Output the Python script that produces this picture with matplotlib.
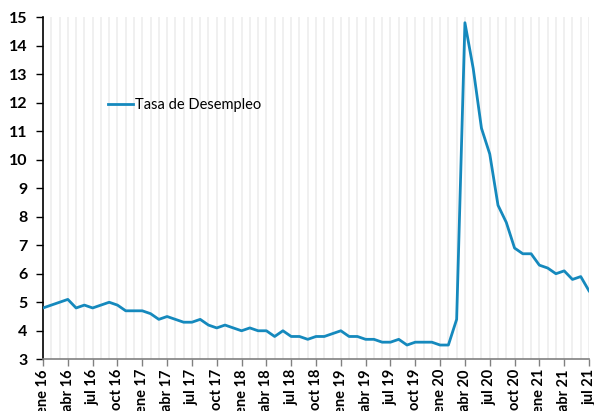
import matplotlib
matplotlib.use("Agg")
import matplotlib.pyplot as plt

months = ["ene", "feb", "mar", "abr", "may", "jun", "jul", "ago", "sep", "oct", "nov", "dic"]
periods = [f"{m} {y}" for y in range(16, 22) for m in months][:67]

tasa = [4.8, 4.9, 5.0, 5.1, 4.8, 4.9, 4.8, 4.9, 5.0, 4.9, 4.7, 4.7,
        4.7, 4.6, 4.4, 4.5, 4.4, 4.3, 4.3, 4.4, 4.2, 4.1, 4.2, 4.1,
        4.0, 4.1, 4.0, 4.0, 3.8, 4.0, 3.8, 3.8, 3.7, 3.8, 3.8, 3.9,
        4.0, 3.8, 3.8, 3.7, 3.7, 3.6, 3.6, 3.7, 3.5, 3.6, 3.6, 3.6,
        3.5, 3.5, 4.4, 14.8, 13.2, 11.1, 10.2, 8.4, 7.8, 6.9, 6.7, 6.7,
        6.3, 6.2, 6.0, 6.1, 5.8, 5.9, 5.4]

yticks = list(range(3, 16))

plt.rcParams['font.family'] = ['Lato', 'DejaVu Sans']

fig = plt.figure(figsize=(5.94, 4.11), dpi=100)
ax = fig.add_axes([0.0724, 0.1258, 0.9192, 0.8328])

x = list(range(len(tasa)))
for xi in x:
    ax.axvline(xi, color='#efefef', lw=1.3, zorder=0)

ax.plot(x, tasa, color='#1589bd', lw=2.0, label='Tasa de Desempleo', zorder=3)

ax.set_xlim(0, len(tasa) - 1)
ax.set_ylim(3, 15)
ax.set_yticks(yticks)
ax.set_yticklabels([str(v) for v in yticks], fontweight='bold', fontsize=11.5)

tick_pos = x[::3]
ax.set_xticks(tick_pos)
ax.set_xticklabels([periods[i] for i in tick_pos], rotation=90, fontweight='bold', fontsize=10.5)

for s in ['top', 'right']:
    ax.spines[s].set_visible(False)
ax.spines['left'].set_color('black')
ax.spines['left'].set_linewidth(1.2)
ax.spines['bottom'].set_color('#808080')
ax.spines['bottom'].set_linewidth(1.2)
ax.tick_params(axis='y', direction='out', length=5, width=1, pad=6)
ax.tick_params(axis='x', direction='out', length=5, width=1, color='#808080', pad=2)

leg = fig.legend(loc='center left', bbox_to_anchor=(0.160, 0.745), frameon=False,
                 fontsize=10.5, handlelength=1.7, handletextpad=0.15)

fig.savefig("out.png", dpi=100)
